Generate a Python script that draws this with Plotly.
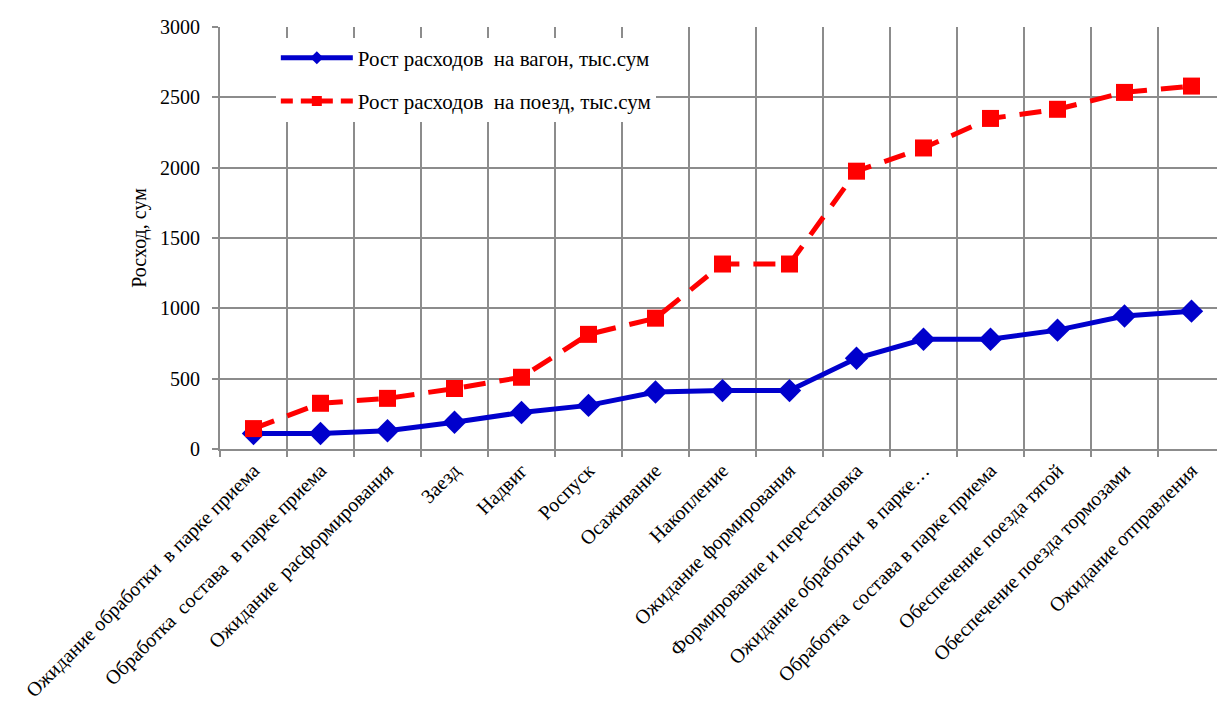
import plotly.graph_objects as go

categories = [
    "Ожидание обработки  в парке приема",
    "Обработка  состава  в парке приема",
    "Ожидание  расформирования",
    "Заезд",
    "Надвиг",
    "Роспуск",
    "Осаживание",
    "Накопление",
    "Ожидание формирования",
    "Формирование и перестановка",
    "Ожидание обработки  в парке…",
    "Обработка  состава в парке приема",
    "Обеспечение поезда тягой",
    "Обеспечение поезда тормозами",
    "Ожидание отправления",
]
wagon = [110, 110, 130, 190, 260, 310, 405, 415, 415, 645, 780, 780, 845, 945, 980]
train = [145, 325, 360, 430, 510, 815, 930, 1315, 1315, 1975, 2140, 2350, 2415, 2535, 2580]
names = ["Рост расходов  на вагон, тыс.сум", "Рост расходов  на поезд, тыс.сум"]

x_idx = list(range(len(categories)))
FONT = "Liberation Serif"
BLUE = "#0000CC"
RED = "#FF0000"
DASH = "22px,14px"

fig = go.Figure()
fig.add_trace(go.Scatter(
    x=x_idx, y=wagon, mode="lines+markers", showlegend=False,
    line=dict(color=BLUE, width=5),
    marker=dict(symbol="diamond", size=18, color=BLUE),
))
fig.add_trace(go.Scatter(
    x=x_idx, y=train, mode="lines+markers", showlegend=False,
    line=dict(color=RED, width=5, dash=DASH),
    marker=dict(symbol="square", size=17, color=RED),
))
fig.add_trace(go.Scatter(
    x=[None], y=[None], mode="lines+markers", name=names[0], legendgroup="a",
    line=dict(color=BLUE, width=5),
    marker=dict(symbol="diamond", size=10, color=BLUE),
))
fig.add_trace(go.Scatter(
    x=[None], y=[None], mode="lines+markers", name=names[1], legendgroup="b",
    line=dict(color=RED, width=5, dash="12px,8px"),
    marker=dict(symbol="square", size=10, color=RED),
))

grid = "#8c8c8c"
fig.update_layout(
    width=1217, height=709,
    margin=dict(l=220, r=0, t=27, b=260),
    paper_bgcolor="white", plot_bgcolor="white",
    font=dict(family=FONT, size=20, color="black"),
    showlegend=True,
    legend=dict(
        x=0.056, y=0.975, xanchor="left", yanchor="top",
        bgcolor="white", font=dict(family=FONT, size=21),
        tracegroupgap=13, traceorder="grouped", itemwidth=72,
    ),
    xaxis=dict(
        tickmode="array", tickvals=x_idx, ticktext=categories,
        range=[-0.5, -0.5 + (1217 - 220) / 67.0],
        tickangle=-45, tickfont=dict(family=FONT, size=20),
        showgrid=False, zeroline=False, automargin=False,
        showline=True, linecolor=grid, linewidth=2,
        ticks="",
    ),
    yaxis=dict(
        range=[0, 3000], dtick=500, automargin=False,
        title=dict(text="Росход, сум", font=dict(family=FONT, size=20), standoff=8),
        tickfont=dict(family=FONT, size=20),
        showgrid=True, gridcolor=grid, gridwidth=2,
        zeroline=False, showline=True, linecolor=grid, linewidth=2,
        ticks="outside", ticklen=6, tickcolor=grid, tickwidth=2,
        ticklabelstandoff=8,
    ),
)

bounds = [i + 0.5 for i in range(-1, len(categories))]
fig.update_layout(xaxis2=dict(
    overlaying="x", matches="x", side="bottom", automargin=False,
    tickmode="array", tickvals=bounds, ticktext=[""] * len(bounds),
    showgrid=True, gridcolor=grid, gridwidth=2,
    ticks="outside", ticklen=7, tickcolor=grid, tickwidth=2,
    showline=False, zeroline=False, layer="below traces",
))
fig.add_trace(go.Scatter(x=[0], y=[None], xaxis="x2", showlegend=False, hoverinfo="skip"))

fig.write_html("out.html")
